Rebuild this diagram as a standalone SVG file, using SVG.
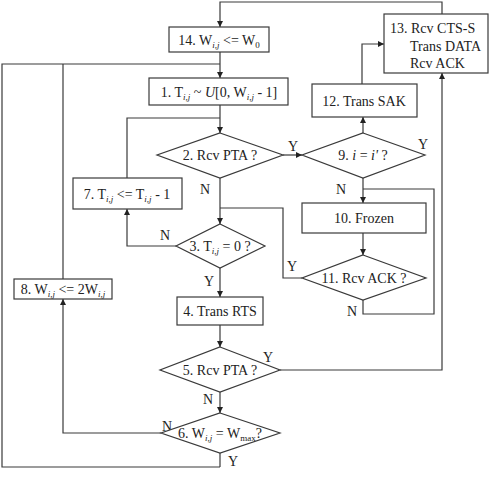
<svg xmlns="http://www.w3.org/2000/svg" width="498" height="478" viewBox="0 0 498 478" font-family="'Liberation Serif', 'DejaVu Serif', serif">
<style>
.n{fill:#fff;stroke:#3a3a3a;stroke-width:1.2}
.c{fill:none;stroke:#3a3a3a;stroke-width:1.2}
text{font-family:'Liberation Serif','DejaVu Serif',serif;font-size:14px;fill:#222}
.m{text-anchor:middle}
.s{font-size:9px;font-style:italic}
.i{font-style:italic}
</style>
<defs>
<marker id="a" viewBox="0 0 8 8" refX="8" refY="4" markerWidth="6" markerHeight="6" orient="auto" markerUnits="userSpaceOnUse">
<path d="M0,0 L8,4 L0,8 z" fill="#222"/>
</marker>
</defs>
<rect width="498" height="478" fill="#fff"/>
<g id="connectors">
<path class="c" d="M442,14 V2 H220 V27" marker-end="url(#a)"/>
<path class="c" d="M220,52 V78" marker-end="url(#a)"/>
<path class="c" d="M220,467 H2 V64 H220"/>
<path class="c" d="M63,64 V279"/>
<path class="c" d="M220,105 V133" marker-end="url(#a)"/>
<path class="c" d="M127,178 V118 H220"/>
<path class="c" d="M220,178 V224" marker-end="url(#a)"/>
<path class="c" d="M176,246 H127 V209" marker-end="url(#a)"/>
<path class="c" d="M302,278 H283 V208 H220"/>
<path class="c" d="M283,155 H302" marker-end="url(#a)"/>
<path class="c" d="M363,133 V117" marker-end="url(#a)"/>
<path class="c" d="M362,84 V44 H384" marker-end="url(#a)"/>
<path class="c" d="M363,178 V203" marker-end="url(#a)"/>
<path class="c" d="M363,300 V314 H434 V189 H363"/>
<path class="c" d="M363,233 V255" marker-end="url(#a)"/>
<path class="c" d="M220,268 V297" marker-end="url(#a)"/>
<path class="c" d="M220,325 V347" marker-end="url(#a)"/>
<path class="c" d="M280,370 H442 V73" marker-end="url(#a)"/>
<path class="c" d="M220,392 V413" marker-end="url(#a)"/>
<path class="c" d="M161,433 H63 V299" marker-end="url(#a)"/>
<path class="c" d="M220,453 V467"/>
<text x="288" y="151">Y</text>
<text x="418" y="149">Y</text>
<text x="200" y="194">N</text>
<text x="336" y="194">N</text>
<text x="160" y="240">N</text>
<text x="287" y="271">Y</text>
<text x="204" y="286">Y</text>
<text x="347" y="316">N</text>
<text x="263" y="362">Y</text>
<text x="203" y="404">N</text>
<text x="162" y="431">N</text>
<text x="228" y="466">Y</text>
</g>
<g id="n14">
<rect class="n" x="169" y="27" width="100" height="25"/>
<text class="m" x="219" y="45">14. W<tspan class="s" dy="3">i,j</tspan><tspan dy="-3"> &lt;= W</tspan><tspan font-size="9" dy="3">0</tspan></text>
</g>
<g id="n13">
<rect class="n" x="384" y="14" width="104" height="59"/>
<text x="390" y="33">13. Rcv CTS-S</text>
<text x="410" y="51">Trans DATA</text>
<text x="410" y="68">Rcv ACK</text>
</g>
<g id="n1">
<rect class="n" x="149" y="78" width="139" height="27"/>
<text class="m" x="219" y="97">1. T<tspan class="s" dy="3">i,j</tspan><tspan dy="-3"> ~ </tspan><tspan class="i">U</tspan>[0, W<tspan class="s" dy="3">i,j</tspan><tspan dy="-3"> - 1]</tspan></text>
</g>
<g id="n12">
<rect class="n" x="312" y="84" width="105" height="33"/>
<text class="m" x="364" y="106">12. Trans SAK</text>
</g>
<g id="n2">
<polygon class="n" points="220,133 283,155 220,178 157,155"/>
<text class="m" x="220" y="160">2. Rcv PTA ?</text>
</g>
<g id="n9">
<polygon class="n" points="363,133 425,155 363,178 302,155"/>
<text class="m" x="363" y="160">9. <tspan class="i">i</tspan> = <tspan class="i">i'</tspan> ?</text>
</g>
<g id="n7">
<rect class="n" x="73" y="178" width="109" height="31"/>
<text class="m" x="127" y="199">7. T<tspan class="s" dy="3">i,j</tspan><tspan dy="-3"> &lt;= T</tspan><tspan class="s" dy="3">i,j</tspan><tspan dy="-3"> - 1</tspan></text>
</g>
<g id="n10">
<rect class="n" x="302" y="203" width="124" height="30"/>
<text class="m" x="364" y="223">10. Frozen</text>
</g>
<g id="n3">
<polygon class="n" points="220,224 265,246 220,268 176,246"/>
<text class="m" x="220" y="251">3. T<tspan class="s" dy="3">i,j</tspan><tspan dy="-3"> = 0 ?</tspan></text>
</g>
<g id="n11">
<polygon class="n" points="363,255 426,278 363,300 302,278"/>
<text class="m" x="364" y="283">11. Rcv ACK ?</text>
</g>
<g id="n8">
<rect class="n" x="14" y="279" width="98" height="20"/>
<text class="m" x="63" y="294">8. W<tspan class="s" dy="3">i,j</tspan><tspan dy="-3"> &lt;= 2W</tspan><tspan class="s" dy="3">i,j</tspan></text>
</g>
<g id="n4">
<rect class="n" x="177" y="297" width="86" height="28"/>
<text class="m" x="220" y="316">4. Trans RTS</text>
</g>
<g id="n5">
<polygon class="n" points="220,347 280,370 220,392 160,370"/>
<text class="m" x="220" y="375">5. Rcv PTA ?</text>
</g>
<g id="n6">
<polygon class="n" points="220,413 280,433 220,453 161,433"/>
<text class="m" x="220" y="438">6. W<tspan class="s" dy="3">i,j</tspan><tspan dy="-3"> = W</tspan><tspan font-size="9" dy="3">max</tspan><tspan dy="-3">?</tspan></text>
</g>
</svg>
